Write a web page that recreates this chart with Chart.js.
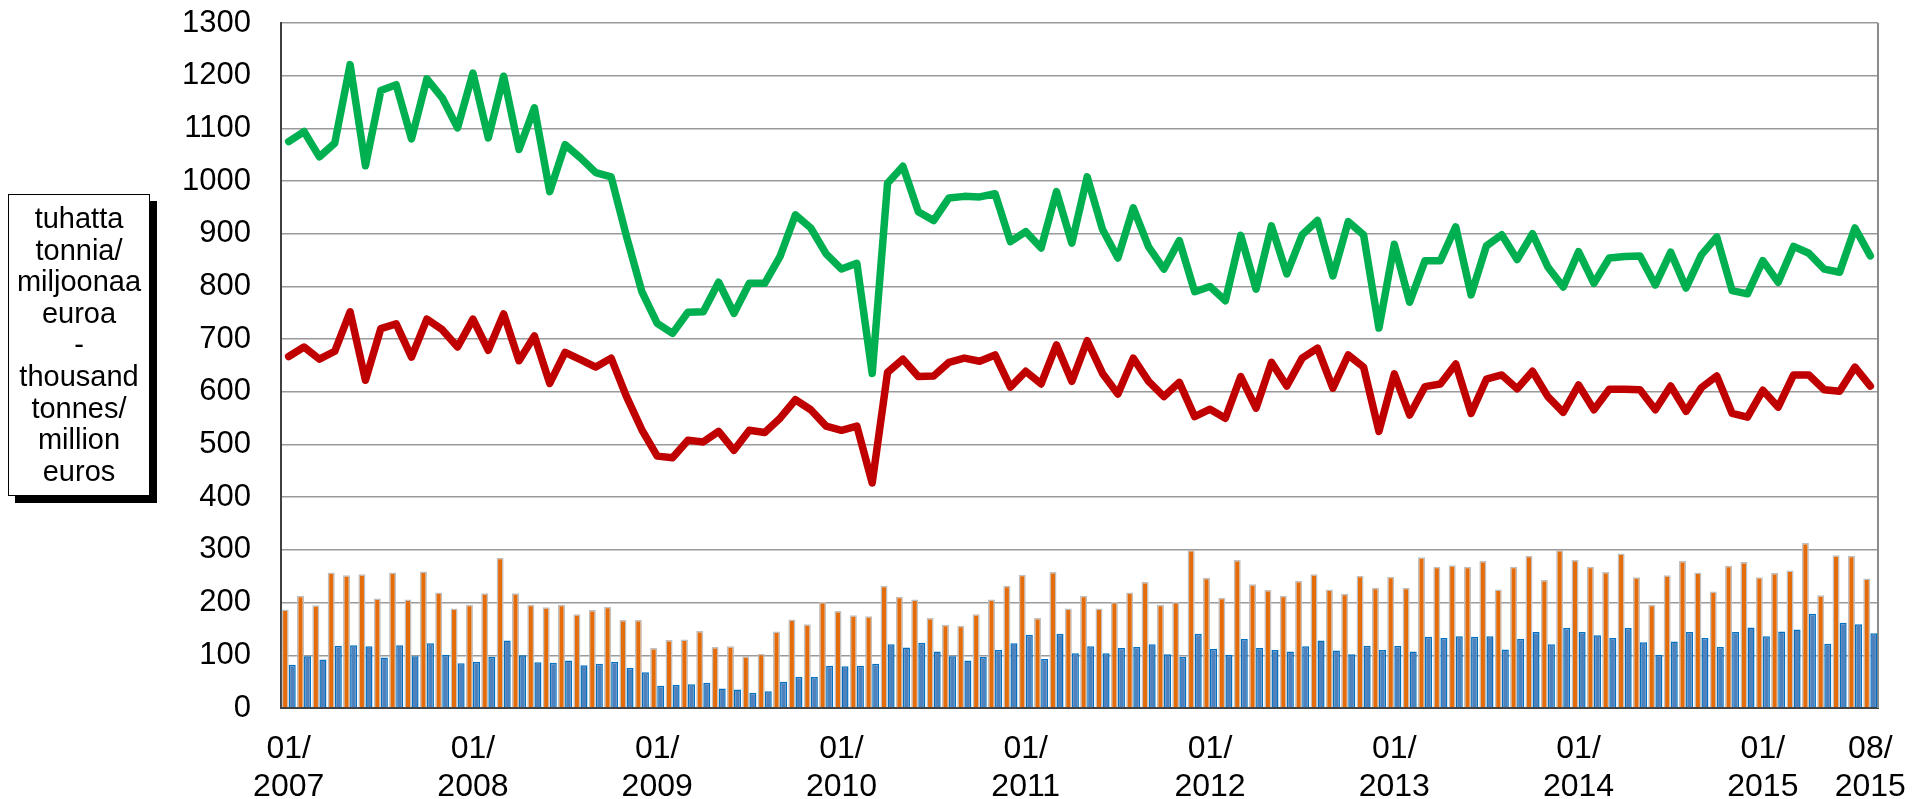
<!DOCTYPE html>
<html>
<head>
<meta charset="utf-8">
<script src="https://cdn.jsdelivr.net/npm/chart.js@4"></script>
<style>
    body { margin: 0; background: #fff; }
    #wrap { position: relative; width: 1926px; height: 799px; }
    #unitBox {
        position: absolute; left: 8px; top: 194px; width: 140px; height: 284px;
        padding: 8px 0; border: 1.5px solid #000; box-shadow: 7px 7px 0 #000;
        background: #fff; text-align: center;
        font: 29px/31.6px "Liberation Sans", Arial, sans-serif; color: #000;
    }
</style>
</head>
<body>
<div id="wrap">
    <canvas id="chart"></canvas>
    <div id="unitBox">tuhatta<br>tonnia/<br>miljoonaa<br>euroa<br>-<br>thousand<br>tonnes/<br>million<br>euros</div>
</div>
<script>
// --- Data (01/2007 - 08/2015, monthly) ---
const months = [];
for (let y = 2007; y <= 2015; y++) {
    for (let m = 1; m <= 12; m++) {
        if (y === 2015 && m > 8) break;
        months.push((m < 10 ? '0' + m : '' + m) + '/' + y);
    }
}
const tickMonths = ['01/2007', '01/2008', '01/2009', '01/2010', '01/2011', '01/2012', '01/2013', '01/2014', '01/2015', '08/2015'];

const lineGreen = [1075, 1094, 1046, 1072, 1221, 1029, 1172, 1183, 1080, 1194, 1158, 1101,
    1205, 1082, 1199, 1060, 1139, 980, 1069, 1044, 1016, 1008, 895, 790,
    730, 711, 751, 752, 808, 749, 806, 806, 857, 936, 911, 862,
    833, 844, 635, 996, 1028, 942, 925, 968, 971, 970, 976, 885,
    904, 873, 980, 882, 1008, 908, 854, 949, 875, 833, 887, 790,
    800, 773, 897, 795, 915, 824, 898, 925, 820, 923, 898, 721,
    880, 770, 849, 849, 913, 784, 877, 898, 851, 900, 837, 799,
    866, 806, 854, 857, 858, 803, 865, 797, 860, 894, 792, 786,
    849, 808, 876, 863, 833, 827, 911, 858];

const lineRed = [667, 685, 662, 677, 752, 622, 720, 729, 666, 738, 718, 685,
    738, 679, 748, 659, 706, 616, 675, 661, 647, 664, 591, 528,
    478, 475, 508, 505, 525, 489, 527, 523, 550, 585, 566, 535,
    527, 535, 427, 637, 662, 629, 630, 656, 664, 658, 670, 609,
    639, 615, 689, 620, 697, 635, 596, 664, 620, 591, 618, 553,
    567, 550, 629, 569, 656, 611, 664, 683, 607, 670, 647, 525,
    634, 556, 610, 615, 653, 559, 624, 632, 606, 639, 591, 561,
    613, 566, 605, 605, 604, 566, 611, 563, 608, 630, 559, 552,
    603, 571, 632, 632, 604, 601, 647, 611];

const barOrange = [187, 213, 195, 257, 252, 254, 208, 257, 206, 259, 219, 189,
    196, 218, 285, 218, 196, 191, 196, 178, 186, 192, 167, 167,
    114, 129, 130, 146, 116, 117, 98, 103, 145, 168, 159, 201,
    184, 176, 174, 232, 211, 206, 171, 158, 156, 178, 206, 232,
    253, 171, 258, 189, 213, 189, 201, 219, 239, 196, 201, 300,
    247, 209, 281, 235, 224, 213, 241, 254, 225, 217, 251, 228,
    249, 228, 286, 268, 271, 268, 279, 225, 268, 289, 243, 300,
    281, 268, 258, 293, 248, 196, 252, 279, 257, 221, 270, 277,
    248, 256, 261, 313, 214, 290, 289, 246];

const barBlue = [82, 98, 92, 118, 119, 117, 96, 119, 98, 123, 101, 85,
    88, 97, 128, 100, 87, 86, 90, 81, 84, 88, 76, 68,
    42, 44, 45, 48, 37, 35, 29, 32, 50, 59, 59, 80,
    79, 80, 84, 121, 115, 124, 107, 98, 90, 97, 110, 123,
    139, 93, 141, 104, 117, 104, 114, 116, 121, 102, 97, 141,
    112, 101, 131, 114, 110, 107, 117, 128, 109, 102, 118, 110,
    118, 107, 135, 133, 136, 135, 136, 111, 131, 144, 121, 152,
    144, 138, 133, 152, 125, 101, 126, 144, 133, 116, 144, 153,
    136, 145, 149, 179, 122, 162, 159, 142];

// --- Chart ---
Chart.defaults.font.family = '"Liberation Sans", Arial, sans-serif';
Chart.defaults.font.size = 31;
Chart.defaults.color = '#000';

// right edge of the plot frame
const frameRight = {
    id: 'frameRight',
    beforeDatasetsDraw(chart) {
        const a = chart.chartArea;
        const ctx = chart.ctx;
        ctx.save();
        ctx.strokeStyle = '#8c8c8c';
        ctx.lineWidth = 2;
        ctx.beginPath();
        ctx.moveTo(a.right, a.top);
        ctx.lineTo(a.right, a.bottom);
        ctx.stroke();
        ctx.restore();
    }
};

new Chart(document.getElementById('chart'), {
    data: {
        labels: months,
        datasets: [
            { type: 'line', data: lineGreen, borderColor: '#00B050', borderWidth: 7.5,
              pointRadius: 0, borderJoinStyle: 'round', borderCapStyle: 'round', order: 0 },
            { type: 'line', data: lineRed, borderColor: '#C00000', borderWidth: 7.5,
              pointRadius: 0, borderJoinStyle: 'round', borderCapStyle: 'round', order: 0 },
            { type: 'bar', data: barOrange, backgroundColor: '#E46C0A', borderColor: '#C0C0C0',
              borderWidth: 1.5, categoryPercentage: 0.92, barPercentage: 1.0, order: 1 },
            { type: 'bar', data: barBlue, backgroundColor: '#4F81BD', borderColor: '#0070C0',
              borderWidth: 1.5, categoryPercentage: 0.92, barPercentage: 1.0, order: 1 }
        ]
    },
    options: {
        responsive: true,
        maintainAspectRatio: false,
        animation: false,
        layout: { padding: { top: 23, right: 48, left: 0, bottom: 0 } },
        plugins: { legend: { display: false }, tooltip: { enabled: false } },
        scales: {
            x: {
                offset: true,
                grid: { display: false },
                border: { display: true, color: '#404040', width: 2 },
                ticks: {
                    autoSkip: false, maxRotation: 0, minRotation: 0, padding: 14,
                    font: { size: 32 },
                    callback: function (val, idx) {
                        const lbl = months[idx];
                        if (!tickMonths.includes(lbl)) return '';
                        const parts = lbl.split('/');
                        return [parts[0] + '/', parts[1]];
                    }
                },
                afterFit: function (scale) { scale.height = 91; }
            },
            y: {
                min: 0, max: 1300,
                grid: { color: '#9a9a9a', lineWidth: 1.5, drawTicks: false },
                border: { display: true, color: '#404040', width: 2 },
                ticks: { stepSize: 100, padding: 30, callback: function (v) { return String(v); } },
                afterFit: function (scale) {
                    scale.width = 281;
                    scale.paddingTop = 0;
                    scale.paddingBottom = 0;
                }
            }
        }
    },
    plugins: [frameRight]
});
</script>
</body>
</html>
